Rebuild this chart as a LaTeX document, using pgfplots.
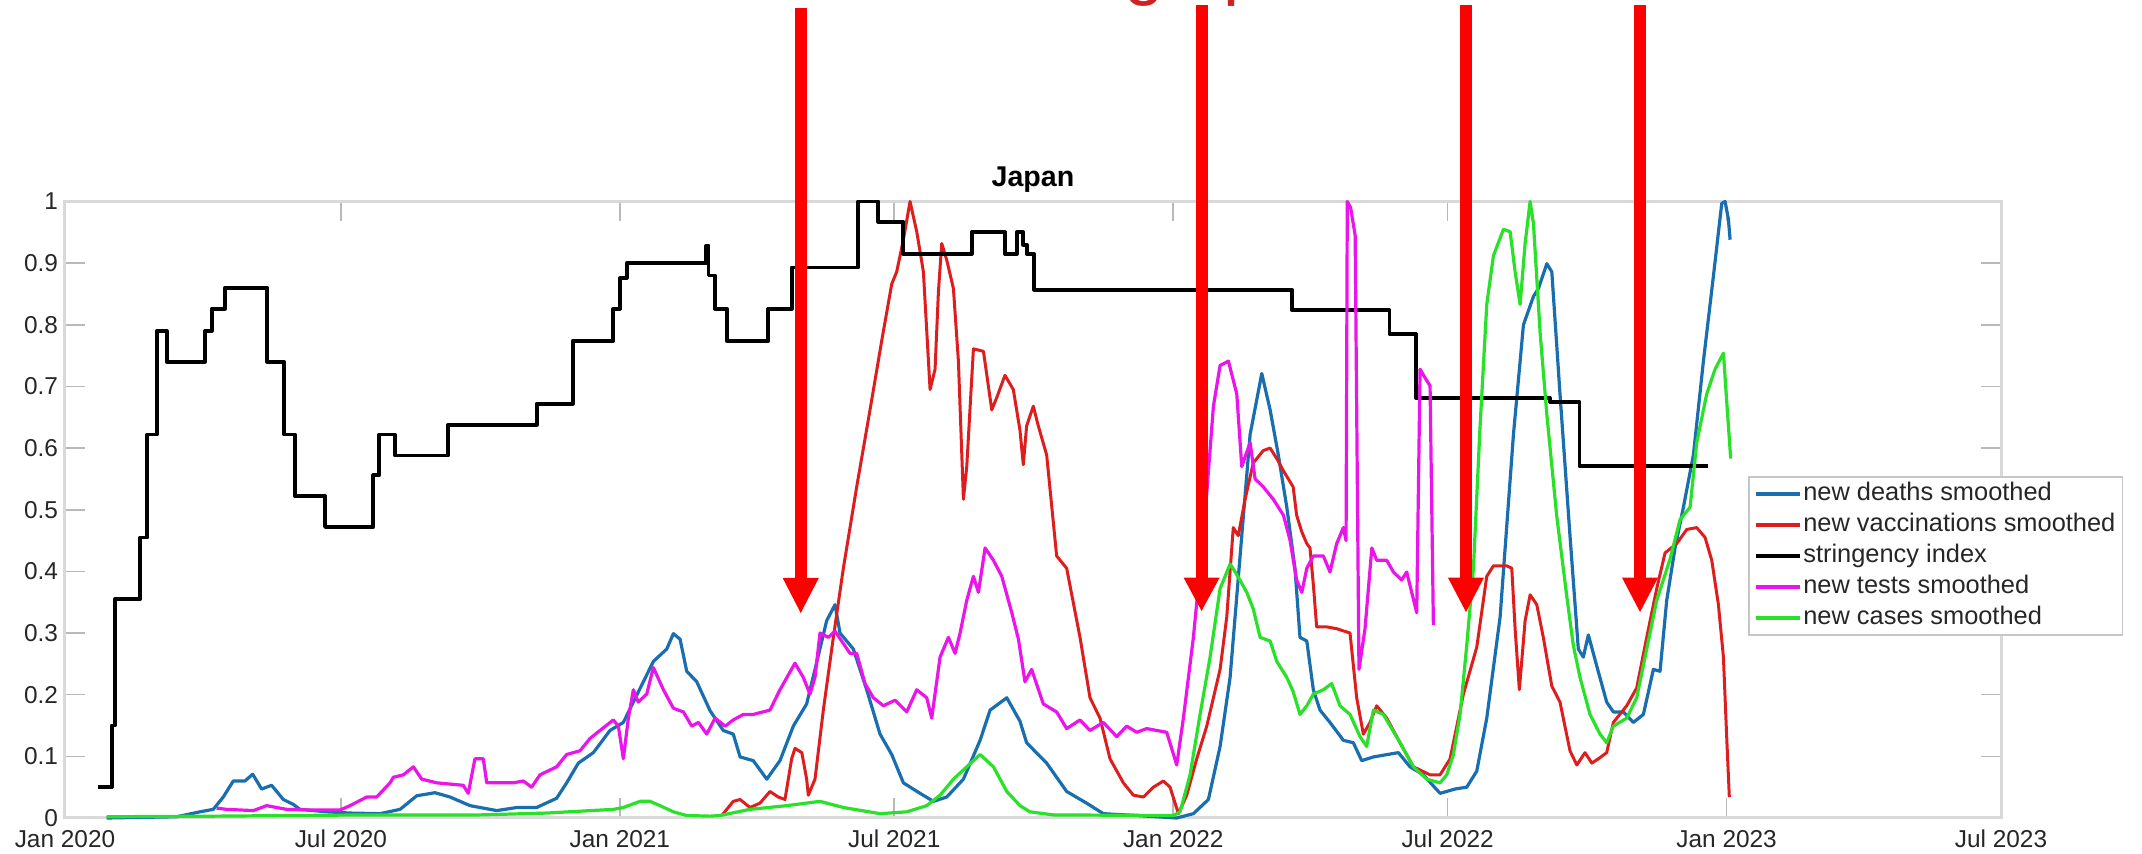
\documentclass[border=0pt]{standalone}
\usepackage{fontspec}
\setmainfont{Liberation Sans}
\usepackage{pgfplots}
\pgfplotsset{compat=1.18}
\usepackage{pgfplotstable}

\definecolor{cdeath}{RGB}{25,110,175}
\definecolor{cvacc}{RGB}{222,30,30}
\definecolor{ctest}{RGB}{235,20,235}
\definecolor{ccase}{RGB}{40,225,40}
\definecolor{carrow}{RGB}{255,0,0}
\definecolor{ctext}{RGB}{205,35,35}

% x = days since 1 Jan 2020, y = normalised value
\pgfplotstableread{
x y
27.5 0
73.7 0.002
89 0.01
97.8 0.014
104.4 0.034
111 0.06
118.7 0.06
123.8 0.071
129.7 0.047
136.3 0.053
144 0.03
150.6 0.022
155 0.014
172.6 0.01
188 0.008
207.8 0.007
221 0.014
232 0.036
244 0.041
254 0.034
267.2 0.02
284.8 0.012
298 0.017
311.1 0.017
324.3 0.032
330.9 0.057
338.6 0.089
348.5 0.106
359.5 0.142
368.3 0.155
374.9 0.188
388.1 0.254
396.9 0.274
401.3 0.299
405.7 0.29
410.1 0.238
416.7 0.221
425.5 0.174
434.2 0.142
440.8 0.136
445.3 0.099
454 0.093
462.9 0.063
471.6 0.093
480.4 0.149
489.2 0.185
494.7 0.241
502.4 0.32
507.9 0.346
511.2 0.3
520 0.274
528.8 0.208
537.6 0.136
545.3 0.103
553 0.057
564 0.04
572.8 0.027
581.6 0.034
592.6 0.063
603.6 0.126
610.2 0.175
621.2 0.195
629.9 0.157
634.3 0.122
647.5 0.089
660.7 0.043
673.9 0.024
684.9 0.007
706.9 0.004
733.3 0
744.3 0.007
754.2 0.03
761.9 0.116
768.5 0.228
775.1 0.425
781.7 0.622
789.4 0.721
794.9 0.662
800.3 0.589
805.9 0.504
811.3 0.405
814.6 0.293
819.1 0.287
823.4 0.208
827.8 0.175
834.4 0.155
843.2 0.126
849.8 0.122
855.3 0.093
863 0.099
879.5 0.106
887.2 0.083
896 0.07
907 0.04
916.9 0.047
924.6 0.05
931.2 0.076
937.8 0.162
946.6 0.326
955.4 0.622
962 0.8
968.6 0.846
971.9 0.859
977.4 0.899
980.7 0.886
986.1 0.688
992.7 0.458
998.2 0.274
1001.5 0.261
1004.8 0.297
1010.3 0.247
1016.9 0.188
1021.3 0.172
1027.9 0.172
1034.5 0.155
1041.1 0.168
1047.7 0.241
1052.1 0.238
1056.5 0.353
1062 0.438
1067.5 0.504
1074.1 0.589
1080.7 0.741
1087.3 0.879
1092.8 0.997
1095 1.0
1097.2 0.971
1098.3 0.938
}\deaths

\pgfplotstableread{
x y
433.2 0.004
440.8 0.027
445.3 0.03
451.8 0.017
458.4 0.024
465 0.043
470.5 0.034
474.9 0.03
479.3 0.096
481.5 0.113
486 0.106
489.2 0.063
490.3 0.037
494.7 0.063
500.2 0.175
506.8 0.293
513.4 0.405
522.2 0.537
531 0.662
538.7 0.774
545.3 0.866
548.6 0.886
553 0.938
557.4 1.0
561.8 0.951
566.2 0.886
570.6 0.695
573.9 0.728
576.1 0.853
578.3 0.932
581.6 0.905
586 0.859
589.3 0.741
592.6 0.517
594.8 0.57
599.2 0.761
605.8 0.757
611.3 0.662
614.6 0.682
620 0.718
625.5 0.695
629.9 0.629
632.1 0.573
634.3 0.636
638.7 0.668
642 0.636
647.5 0.589
654.1 0.425
660.7 0.405
669.5 0.293
676.1 0.195
682.7 0.162
689.3 0.096
698.1 0.057
704.7 0.037
711.3 0.034
717.9 0.05
724.5 0.06
728.9 0.05
734.4 0.007
739.9 0.037
746.5 0.096
753.1 0.149
761.9 0.241
766.3 0.326
770.6 0.471
773.9 0.458
778.4 0.517
783.8 0.576
790.4 0.596
794.9 0.6
799.3 0.583
803.7 0.563
810.1 0.537
812.4 0.491
815.8 0.464
819.1 0.445
821.2 0.438
823.4 0.379
825.6 0.31
832.2 0.31
838.8 0.307
847.6 0.3
852 0.195
856.4 0.136
860.8 0.155
865.2 0.182
871.8 0.162
880.6 0.122
889.4 0.083
900.4 0.07
907 0.07
913.6 0.096
922.4 0.201
931.2 0.277
937.8 0.392
942.2 0.409
951 0.409
954.3 0.405
956.5 0.307
959.3 0.208
963.1 0.32
966.4 0.362
970.8 0.346
975.1 0.293
980.7 0.214
986.1 0.188
992.7 0.109
997.2 0.086
1002.6 0.106
1007.1 0.089
1011.4 0.096
1016.9 0.106
1021.3 0.155
1030.1 0.182
1036.7 0.211
1043.3 0.293
1049.9 0.372
1055.4 0.43
1063.1 0.445
1069.7 0.468
1076.3 0.471
1081.8 0.455
1086.2 0.418
1090.6 0.346
1093.9 0.261
1096.1 0.129
1097.8 0.034
}\vacc

\pgfplotstableread{
x y
22 0.05
30.8 0.15
33 0.355
49.5 0.455
54.3 0.622
60.5 0.79
67.1 0.74
92.3 0.79
96.7 0.826
105.5 0.86
133.5 0.74
144.5 0.622
151.7 0.522
171.5 0.472
203.4 0.556
207.3 0.622
217.7 0.588
252.8 0.638
311.1 0.672
334.9 0.774
361.7 0.826
366.1 0.876
370.5 0.9
423 0.928
424.5 0.88
428.8 0.826
436.5 0.774
463.9 0.826
479.3 0.893
523.3 1.0
536.5 0.967
553 0.915
598 0.95
620 0.915
627.8 0.95
632 0.93
634.3 0.915
639.2 0.857
809.2 0.824
873.6 0.785
891.2 0.681
979.6 0.675
998.9 0.571
1084 0.571
}\stringency

\pgfplotstableread{
x y
100 0.016
106.6 0.014
124.2 0.012
133 0.02
146.2 0.014
161.6 0.013
181.4 0.013
188 0.02
199 0.034
205.6 0.034
214.4 0.057
216.6 0.066
223.2 0.07
229.8 0.083
235.3 0.063
245.2 0.057
262.7 0.053
266 0.04
270.4 0.096
275.9 0.096
278.2 0.057
295.7 0.057
302.3 0.06
307.8 0.05
313.3 0.07
324.3 0.083
330.9 0.103
339.7 0.109
346.3 0.129
352.9 0.142
361.7 0.159
365 0.149
368.3 0.096
371.6 0.162
374.9 0.208
378.1 0.188
383.7 0.201
388.1 0.244
394.7 0.208
401.3 0.178
407.9 0.172
413.4 0.149
417.8 0.155
423.3 0.136
428.8 0.162
435.4 0.149
440.8 0.159
447.4 0.168
454 0.168
465 0.175
471.6 0.208
481.5 0.251
487 0.228
491.4 0.201
494.7 0.228
498 0.3
503.5 0.293
507.9 0.303
512.3 0.287
517.8 0.267
522.2 0.267
527.7 0.218
533.2 0.195
539.8 0.182
547.5 0.191
555.2 0.172
561.8 0.208
568.4 0.195
571.7 0.162
577.2 0.261
582.7 0.293
587.1 0.267
590.4 0.3
594.8 0.353
599.2 0.392
602.5 0.366
606.9 0.438
612.4 0.418
617.9 0.392
624.5 0.333
628.9 0.29
633.2 0.221
637.6 0.241
645.3 0.185
654.1 0.172
660.7 0.145
669.5 0.159
676.1 0.142
684.9 0.155
693.7 0.132
700.3 0.149
706.9 0.139
713.5 0.145
726.7 0.139
733.3 0.086
737.7 0.162
744.3 0.293
752 0.491
757.5 0.668
761.9 0.734
767.4 0.741
772.9 0.688
776.2 0.57
781.7 0.609
785 0.55
790.4 0.537
797 0.517
803.7 0.491
808 0.451
812.4 0.386
815.8 0.366
819.1 0.405
823.4 0.425
830 0.425
834.4 0.399
838.8 0.445
843.2 0.471
845 0.45
845.8 1.0
848 0.99
851 0.945
853.5 0.241
857.5 0.307
862 0.438
865.2 0.418
871.8 0.418
876.2 0.399
881.7 0.386
885 0.399
888.3 0.366
891.6 0.333
893.8 0.728
897.1 0.714
900.4 0.701
902.6 0.313
}\tests

\pgfplotstableread{
x y
27.5 0.002
100 0.003
200 0.005
273.7 0.005
317.7 0.008
361.7 0.014
368.3 0.017
379.3 0.027
385.9 0.027
392.5 0.02
401.3 0.01
410.1 0.004
425.5 0.003
432 0.004
451.8 0.014
476 0.02
498 0.027
513.4 0.017
537.6 0.007
555.2 0.01
568.4 0.02
577.2 0.037
586 0.063
594.8 0.083
603.6 0.103
612.4 0.083
621.2 0.043
629.9 0.02
636.5 0.01
651.9 0.005
731.1 0.004
735.5 0.01
742.1 0.07
748.7 0.168
755.3 0.261
761.9 0.372
768.5 0.412
772.9 0.395
779.5 0.366
783.8 0.339
788.3 0.293
794.9 0.287
799.3 0.254
805.9 0.228
810.1 0.205
814.6 0.168
819.1 0.182
823.4 0.201
830 0.208
835.5 0.218
841 0.182
847.6 0.168
854.2 0.132
858.6 0.116
863 0.175
869.6 0.168
880.6 0.122
889.4 0.083
898.2 0.063
907 0.057
911.4 0.07
915.8 0.103
920.2 0.168
924.6 0.28
929 0.405
933.4 0.636
937.8 0.833
942.2 0.912
948.8 0.955
953.2 0.951
956.5 0.886
959.8 0.833
963.1 0.932
966.4 1.0
968.6 0.964
973 0.787
977.4 0.655
983.9 0.491
990.6 0.359
994.9 0.28
999.3 0.228
1005.9 0.168
1012.5 0.136
1016.9 0.122
1021.3 0.149
1030.1 0.162
1036.7 0.195
1043.3 0.274
1049.9 0.353
1058.7 0.42
1065.3 0.484
1071.9 0.504
1076.3 0.609
1082.9 0.688
1088.4 0.728
1093.9 0.754
1096.1 0.675
1098.7 0.583
}\cases

\begin{document}
\begin{tikzpicture}
\begin{axis}[
  at={(0pt,0pt)}, anchor=south west,
  scale only axis, width=968pt, height=308.25pt,
  xmin=0, xmax=1277, ymin=0, ymax=1,
  clip=false,
  xtick={0,182,366,547,731,912,1096,1277},
  xticklabels={Jan 2020,Jul 2020,Jan 2021,Jul 2021,Jan 2022,Jul 2022,Jan 2023,Jul 2023},
  ytick={0,0.1,0.2,0.3,0.4,0.5,0.6,0.7,0.8,0.9,1},
  yticklabels={0,0.1,0.2,0.3,0.4,0.5,0.6,0.7,0.8,0.9,1},
  tick align=inside, xtick pos=both, ytick pos=both,
  major tick length=10pt,
  axis line style={draw=gray!30, line width=1.5pt},
  tick style={draw=gray!55, line width=0.8pt},
  ticklabel style={font=\fontsize{12.2}{14}\selectfont, text=black!85},
  xticklabel style={yshift=-2.5pt},
  /pgf/number format/assume math mode=true,
  title={Japan},
  every axis title shift=0pt,
  title style={at={(0.5,1)}, anchor=base, yshift=7.5pt, inner sep=0pt,
    font=\bfseries\fontsize{14.3}{16}\selectfont},
  legend cell align=left,
  legend style={at={(0.8693,0.5547)}, anchor=north west,
    draw=gray!45, line width=0.8pt, fill=white,
    inner xsep=2.5pt, inner ysep=2.25pt, row sep=3pt,
    font=\fontsize{12.7}{14}\selectfont,
    nodes={inner xsep=1pt, inner ysep=0pt, text height=9.5pt, text depth=3pt, text=black!85}},
  legend image code/.code={\draw[#1, line width=1.8pt] (0pt,0pt) -- (22pt,0pt);},
  every axis plot/.append style={line join=round},
]
\addplot[cdeath, line width=1.6pt] table {\deaths};
\addplot[cvacc, line width=1.5pt] table {\vacc};
\addplot[black, line width=1.9pt, const plot] table {\stringency};
\addplot[ctest, line width=1.6pt] table {\tests};
\addplot[ccase, line width=1.6pt] table {\cases};
\legend{new deaths smoothed, new vaccinations smoothed, stringency index, new tests smoothed, new cases smoothed}

% annotation arrows
\draw[carrow, line width=6pt] (axis cs:485.3,1.3139) -- (axis cs:485.3,0.385);
\fill[carrow] (axis cs:473.4,0.3893) -- (axis cs:497.2,0.3893) -- (axis cs:485.3,0.3325) -- cycle;
\draw[carrow, line width=6pt] (axis cs:749.7,1.3187) -- (axis cs:749.7,0.385);
\fill[carrow] (axis cs:737.8,0.39) -- (axis cs:761.6,0.39) -- (axis cs:749.7,0.3358) -- cycle;
\draw[carrow, line width=6pt] (axis cs:924.1,1.3187) -- (axis cs:924.1,0.385);
\fill[carrow] (axis cs:912.2,0.39) -- (axis cs:936.0,0.39) -- (axis cs:924.1,0.3341) -- cycle;
\draw[carrow, line width=6pt] (axis cs:1038.9,1.3187) -- (axis cs:1038.9,0.385);
\fill[carrow] (axis cs:1027.0,0.39) -- (axis cs:1050.8,0.39) -- (axis cs:1038.9,0.3341) -- cycle;

% heading above the picture, cut by the top edge (only descenders show)
\node[anchor=south west, inner sep=0pt, text=ctext, font=\fontsize{36}{40}\selectfont]
  at (axis cs:698.8,1.3155) {g\hspace{29.3pt}p};
\end{axis}
\pgfresetboundingbox
\path[use as bounding box] (-32.5pt,-18pt) rectangle (1038.5pt,409pt);
\end{tikzpicture}
\end{document}
